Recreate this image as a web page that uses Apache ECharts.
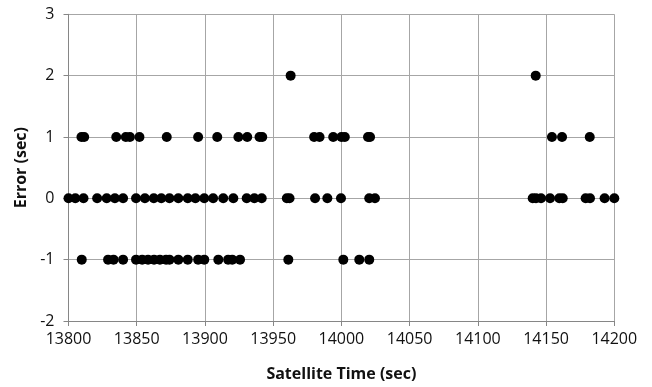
<!DOCTYPE html>
<html><head><meta charset="utf-8">
<script src="https://cdn.jsdelivr.net/npm/echarts@6/dist/echarts.min.js"></script>
<style>html,body{margin:0;padding:0;background:#fff}#c{width:652px;height:387px}</style>
</head><body><div id="c"></div>
<script>
const xTicks = [13800, 13850, 13900, 13950, 14000, 14050, 14100, 14150, 14200];
const yTicks = [-2, -1, 0, 1, 2, 3];
const timesErr2 = [13962.8, 14142.4];
const timesErr1 = [13809.5, 13811.5, 13835, 13842, 13845, 13852, 13872, 13895, 13909, 13924.5, 13931, 13940, 13942,
  13980, 13984, 13994, 14000, 14002.5, 14019.5, 14021, 14154.3, 14161.7, 14182];
const timesErr0 = [13800, 13805, 13811, 13821, 13828, 13834, 13840, 13849.5, 13856, 13862.5, 13868, 13874, 13880.5, 13887.4,
  13893, 13899.5, 13906, 13913.4, 13920.8, 13930.6, 13936.2, 13941.6, 13960, 13962, 13980.7, 13989.7, 13999.7, 14020.4, 14024.6,
  14140.2, 14142.6, 14146.3, 14152.9, 14159.7, 14162.2, 14179, 14182.2, 14192.9, 14200];
const timesErrM1 = [13809.7, 13829, 13833, 13840, 13849.5, 13854, 13858.3, 13862.7, 13867, 13871.5, 13874, 13880.5, 13887.4,
  13895, 13899.5, 13909.8, 13917, 13920, 13925.7, 13961.1, 14001.4, 14013.1, 14020.4];

const pts = [];
timesErr2.forEach(t => pts.push([t, 2]));
timesErr1.forEach(t => pts.push([t, 1]));
timesErr0.forEach(t => pts.push([t, 0]));
timesErrM1.forEach(t => pts.push([t, -1]));

const font = '"Open Sans", "Noto Sans", sans-serif';
const chart = echarts.init(document.getElementById('c'), null, {renderer: 'canvas'});
chart.setOption({
  animation: false,
  backgroundColor: '#fff',
  grid: {left: 68.5, right: 37.7, top: 14.3, bottom: 66, containLabel: false},
  xAxis: {
    type: 'value', min: xTicks[0], max: xTicks[xTicks.length - 1], interval: 50,
    name: 'Satellite Time (sec)', nameLocation: 'middle', nameGap: 45,
    nameTextStyle: {fontFamily: font, fontWeight: 'bold', fontSize: 16, color: '#111'},
    axisLine: {onZero: false, lineStyle: {color: '#868686', width: 1}},
    axisTick: {show: true, inside: false, length: 5, lineStyle: {color: '#868686'}},
    axisLabel: {fontFamily: font, fontSize: 16, color: '#111', margin: 10, formatter: v => String(v)},
    splitLine: {show: true, lineStyle: {color: '#a6a6a6', width: 1}}
  },
  yAxis: {
    type: 'value', min: yTicks[0], max: yTicks[yTicks.length - 1], interval: 1,
    name: 'Error (sec)', nameLocation: 'middle', nameGap: 36, nameRotate: 90,
    nameTextStyle: {fontFamily: font, fontWeight: 'bold', fontSize: 16, color: '#111'},
    axisLine: {show: true, onZero: false, lineStyle: {color: '#868686', width: 1}},
    axisTick: {show: true, inside: false, length: 5, lineStyle: {color: '#868686'}},
    axisLabel: {fontFamily: font, fontSize: 16, color: '#111', margin: 14, formatter: v => String(v)},
    splitLine: {show: true, lineStyle: {color: '#a6a6a6', width: 1}}
  },
  series: [{
    type: 'scatter', data: pts, symbol: 'circle', symbolSize: 10,
    itemStyle: {color: '#000', opacity: 1}
  }]
});
</script></body></html>
